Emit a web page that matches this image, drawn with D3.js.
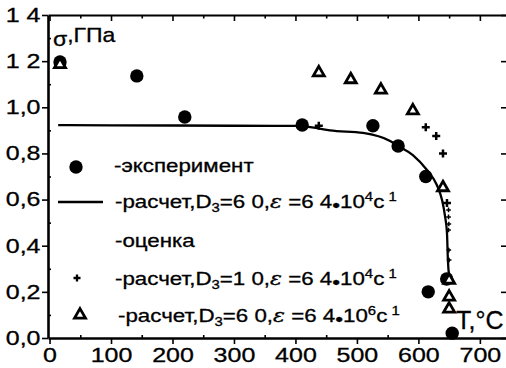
<!DOCTYPE html>
<html>
<head>
<meta charset="utf-8" />
<script src="https://d3js.org/d3.v7.min.js"></script>
<style>
  body { margin: 0; background: #fff; }
  svg text { font-family: "Liberation Sans", Arial, sans-serif; fill: #000; stroke: #000; stroke-width: 0.3px; }
  .axis path, .axis line { stroke: #000; }
</style>
</head>
<body>
<div id="container"></div>
<script>
  // эксперимент (filled circles)
  var expT = [17, 142, 220, 411, 526, 567, 612, 616, 646, 655];
  var expS = [1.196, 1.136, 0.958, 0.923, 0.92, 0.832, 0.70, 0.20, 0.256, 0.021];

  // расчет D3=6,0, e=6,4e4 (solid line)
  var calcT = [14, 100, 200, 300, 400, 430, 456, 510, 554, 567, 591, 614, 630, 638.5, 643.5, 646.5, 648, 650];
  var calcS = [0.923, 0.922, 0.921, 0.92, 0.919, 0.912, 0.90, 0.889, 0.854, 0.832, 0.793, 0.728, 0.663, 0.598, 0.525, 0.455, 0.338, 0.264];

  // оценка D3=1,0 (pluses), the small ones are half hidden under the line
  var plusT = [438, 612, 629, 640, 646.5];
  var plusS = [0.92, 0.913, 0.876, 0.80, 0.585];
  var plusSmallT = [649, 649, 649.5, 649, 649.5, 650];
  var plusSmallS = [0.555, 0.525, 0.494, 0.468, 0.381, 0.338];

  // оценка e=6,4e6 (open triangles)
  var triT = [17, 438, 490, 539, 591, 640, 650, 650, 650];
  var triS = [1.186, 1.15, 1.12, 1.075, 0.985, 0.652, 0.251, 0.178, 0.126];

  var xTicks = [0, 100, 200, 300, 400, 500, 600, 700];
  var xMinor = [50, 150, 250, 350, 450, 550, 650];
  var yTicks = [0, 0.2, 0.4, 0.6, 0.8, 1.0, 1.2, 1.4];
  var yTickLabels = ["0,0", "0,2", "0,4", "0,6", "0,8", "1,0", "1 2", "1 4"];
  var yMinor = [0.1, 0.3, 0.5, 0.7, 0.9, 1.1, 1.3];

  var width = 506, height = 368;
  var pLeft = 48, pRight = 507, pTop = 15, pBottom = 338;

  var svg = d3.select("#container").append("svg")
    .attr("width", width).attr("height", height);

  var x = d3.scaleLinear().domain([-2.5, 742.5]).range([pLeft, 506]);
  var y = d3.scaleLinear().domain([0, 1.4]).range([pBottom, pTop]);

  var lblScale = "scale(1.25,1)";

  // ---- axes ----
  function styleAxis(g, w) {
    g.attr("class", "axis");
    g.select(".domain").style("stroke-width", w);
    g.selectAll(".tick line").style("stroke-width", 1.6);
  }

  var gl = svg.append("g").attr("transform", "translate(" + pLeft + ",0)")
    .call(d3.axisLeft(y).tickValues(yTicks).tickSize(6).tickSizeOuter(0).tickPadding(0)
      .tickFormat(function (d, i) { return yTickLabels[i]; }));
  styleAxis(gl, 2.6);
  gl.selectAll("text").style("font-size", "20px").attr("transform", lblScale);
  svg.append("g").attr("transform", "translate(" + pLeft + ",0)")
    .call(d3.axisLeft(y).tickValues(yMinor).tickSize(-3).tickSizeOuter(0).tickFormat(""))
    .call(function (g) { styleAxis(g, 0); g.select(".domain").remove(); });

  var gb = svg.append("g").attr("transform", "translate(0," + pBottom + ")")
    .call(d3.axisBottom(x).tickValues(xTicks).tickSize(6).tickSizeOuter(0).tickPadding(4));
  styleAxis(gb, 2.6);
  gb.selectAll("text").style("font-size", "20px").attr("transform", lblScale);
  svg.append("g").attr("transform", "translate(0," + pBottom + ")")
    .call(d3.axisBottom(x).tickValues(xMinor).tickSize(-3).tickSizeOuter(0).tickFormat(""))
    .call(function (g) { styleAxis(g, 0); g.select(".domain").remove(); });

  var gt = svg.append("g").attr("transform", "translate(0," + pTop + ")")
    .call(d3.axisTop(x).tickValues(xTicks).tickSize(-6).tickSizeOuter(0).tickFormat(""));
  styleAxis(gt, 2);
  svg.append("g").attr("transform", "translate(0," + pTop + ")")
    .call(d3.axisTop(x).tickValues(xMinor).tickSize(-3.5).tickSizeOuter(0).tickFormat(""))
    .call(function (g) { styleAxis(g, 0); g.select(".domain").remove(); });

  var gr = svg.append("g").attr("transform", "translate(" + pRight + ",0)")
    .call(d3.axisRight(y).tickValues(yTicks).tickSize(-6).tickSizeOuter(0).tickFormat(""));
  styleAxis(gr, 2);

  // ---- series ----
  var line = d3.line()
    .x(function (d) { return x(d[0]); })
    .y(function (d) { return y(d[1]); })
    .curve(d3.curveMonotoneX);

  var plusType = {
    draw: function (ctx, size) {
      var r = Math.sqrt(size) / 2;
      ctx.moveTo(-r, 0); ctx.lineTo(r, 0);
      ctx.moveTo(0, -r); ctx.lineTo(0, r);
    }
  };

  svg.append("g").selectAll("path")
    .data(d3.zip(plusSmallT, plusSmallS)).enter().append("path")
    .attr("transform", function (d) { return "translate(" + x(d[0]) + "," + y(d[1]) + ")"; })
    .attr("d", d3.symbol().type(plusType).size(22))
    .style("fill", "none").style("stroke", "#000").style("stroke-width", 1.5);

  svg.append("path")
    .datum(d3.zip(calcT, calcS))
    .attr("d", line)
    .style("fill", "none").style("stroke", "#000").style("stroke-width", 2.3);

  svg.append("g").selectAll("path")
    .data(d3.zip(plusT, plusS)).enter().append("path")
    .attr("transform", function (d) { return "translate(" + x(d[0]) + "," + y(d[1]) + ")"; })
    .attr("d", d3.symbol().type(plusType).size(64))
    .style("fill", "none").style("stroke", "#000").style("stroke-width", 2.5);

  svg.append("g").selectAll("circle")
    .data(d3.zip(expT, expS)).enter().append("circle")
    .attr("cx", function (d) { return x(d[0]); })
    .attr("cy", function (d) { return y(d[1]); })
    .attr("r", 6.7)
    .style("fill", "#000");

  var tri = d3.symbol().type(d3.symbolTriangle).size(52);
  svg.append("g").selectAll("path")
    .data(d3.zip(triT, triS)).enter().append("path")
    .attr("transform", function (d) { return "translate(" + x(d[0]) + "," + y(d[1]) + ")"; })
    .attr("d", tri)
    .style("fill", "#fff").style("stroke", "#000").style("stroke-width", 2.8)
    .style("stroke-linejoin", "miter");

  // ---- axis titles ----
  var yt = svg.append("text")
    .attr("transform", "translate(53,46) scale(1.15,1)")
    .style("font-size", "20px");
  yt.append("tspan").text("σ");
  yt.append("tspan").attr("dy", -4).text(",ГПа");

  svg.append("text").attr("x", 456).attr("y", 329).style("font-size", "25px").text("T,°C");

  // ---- legend ----
  function legendText(lx, ly) {
    return svg.append("text")
      .attr("transform", "translate(" + lx + "," + ly + ") scale(1.24,1)")
      .style("font-size", "18px");
  }

  function formula(lx, ly, dval, expo) {
    var t = legendText(lx, ly);
    t.append("tspan").text("-расчет,D");
    t.append("tspan").attr("dy", 4).style("font-size", "12px").text("3");
    t.append("tspan").attr("dy", -4).text("=" + dval + ",");
    t.append("tspan").style("font-style", "italic").style("font-family", "DejaVu Serif").text("ε");
    t.append("tspan").text(" =6 4");
    t.append("tspan").attr("dy", 4).text("•");
    t.append("tspan").attr("dy", -4).text("10");
    t.append("tspan").attr("dy", -7).style("font-size", "12px").text(expo);
    t.append("tspan").attr("dy", 7).text("c");
    t.append("tspan").attr("dy", -7).style("font-size", "12px").text(" 1");
  }

  svg.append("circle").attr("cx", 76).attr("cy", 167).attr("r", 6.7).style("fill", "#000");
  legendText(114, 172).text("-эксперимент");

  svg.append("line").attr("x1", 58).attr("x2", 103).attr("y1", 202).attr("y2", 202)
    .style("stroke", "#000").style("stroke-width", 2.3);
  formula(115, 208, "6 0", "4");

  legendText(115, 247).text("-оценка");

  svg.append("path").attr("transform", "translate(77,278)")
    .attr("d", d3.symbol().type(plusType).size(49))
    .style("fill", "none").style("stroke", "#000").style("stroke-width", 2.3);
  formula(115, 285, "1 0", "4");

  svg.append("path").attr("transform", "translate(80,315)")
    .attr("d", tri)
    .style("fill", "#fff").style("stroke", "#000").style("stroke-width", 2.8);
  formula(118, 322, "6 0", "6");
</script>
</body>
</html>
